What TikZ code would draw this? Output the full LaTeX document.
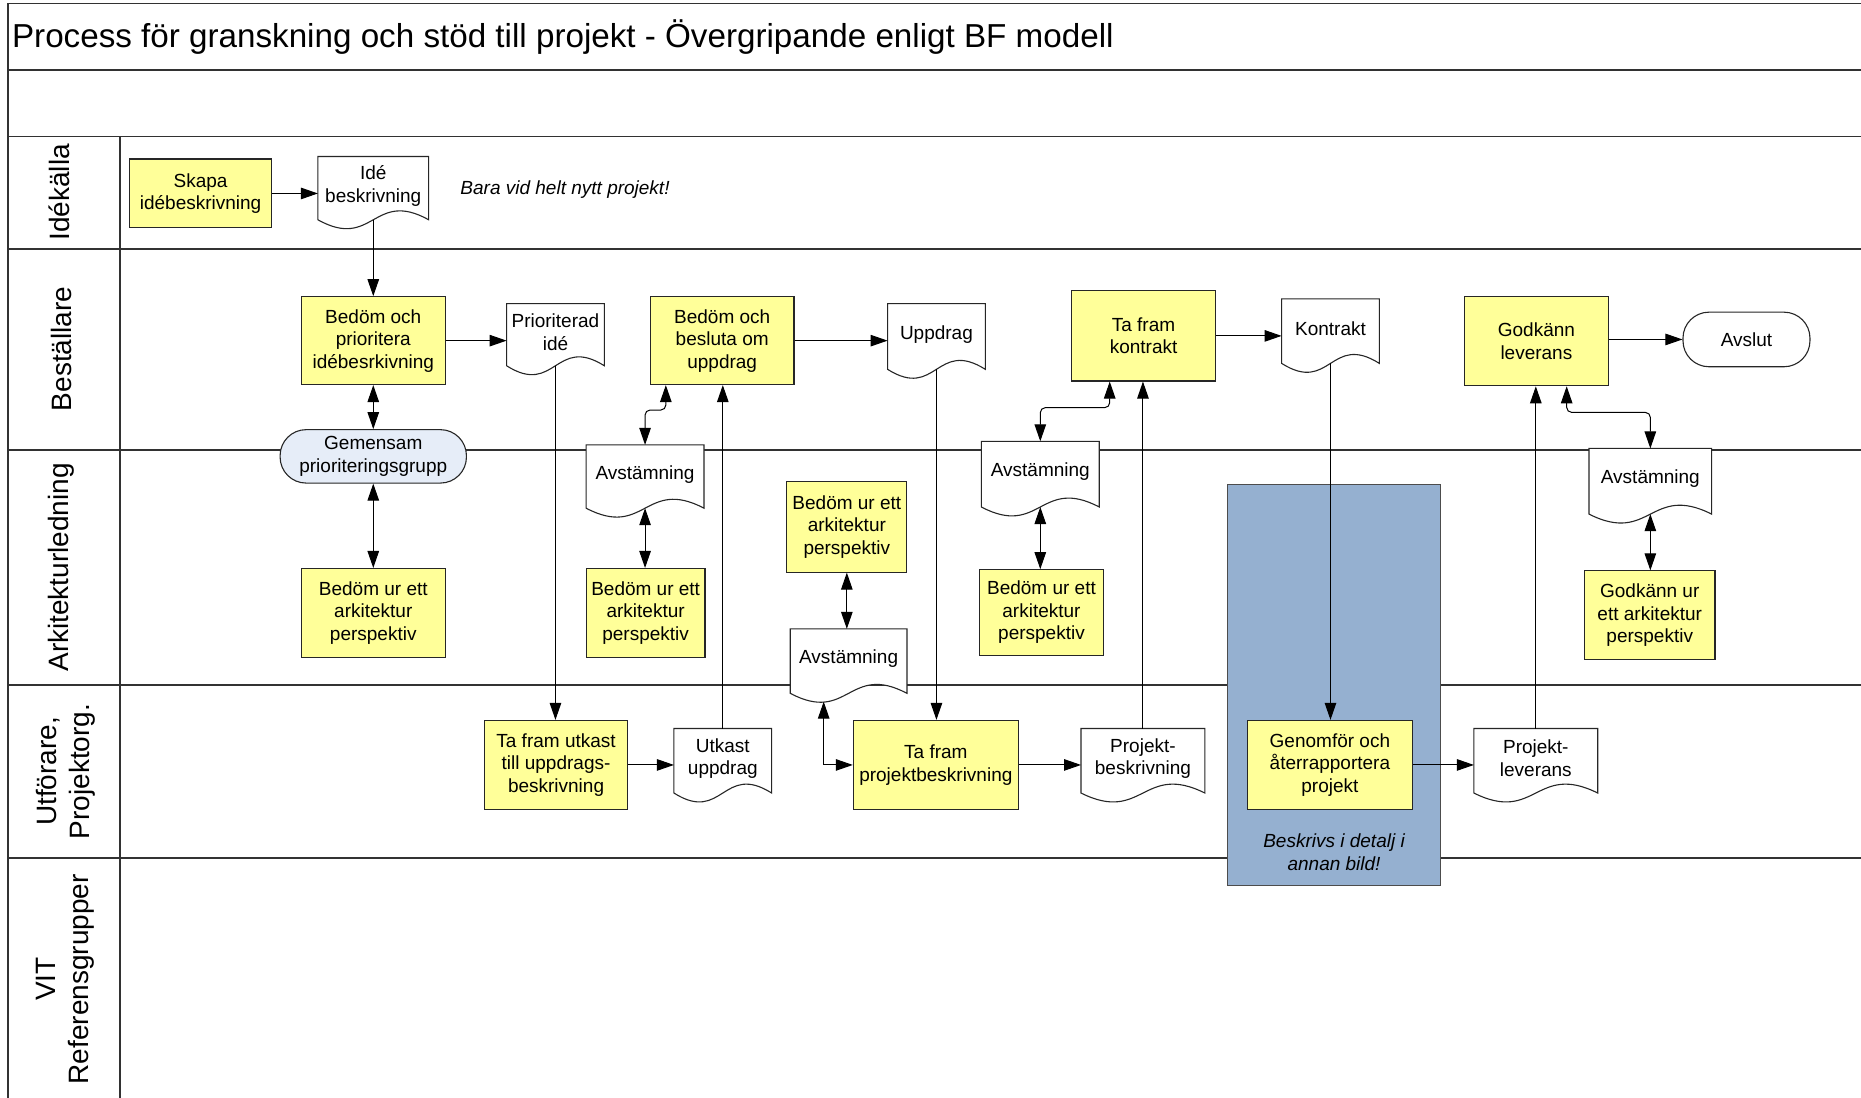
\documentclass[tikz,border=0pt]{standalone}
\usepackage{fontspec}
\setmainfont{Liberation Sans}
\usetikzlibrary{arrows.meta,calc}
\definecolor{boxyellow}{RGB}{255,255,153}
\definecolor{pillblue}{RGB}{230,237,248}
\definecolor{bigblue}{RGB}{149,176,208}
\definecolor{frameline}{RGB}{50,50,50}
\newcommand\boxfont{\fontsize{19}{22.5}\selectfont}
\newcommand\lanefont{\fontsize{28}{33}\selectfont}
\newcommand\titlefont{\fontsize{33.2}{38}\selectfont}
\tikzset{
 frame/.style={draw=frameline, line width=1.8pt},
 procbox/.style={draw=black!85, fill=boxyellow, line width=1.1pt, inner sep=0pt, align=center, font=\boxfont},
 docline/.style={draw=black!85, fill=white, line width=1.1pt},
 doctxt/.style={align=center, font=\boxfont, inner sep=0pt},
 pill/.style={draw=black!85, line width=1.1pt, inner sep=0pt, align=center, font=\boxfont, rounded corners=26pt},
 lanelabel/.style={rotate=90, align=center, font=\lanefont},
 note/.style={font=\boxfont\itshape, align=center},
 arr/.style={-{Triangle[length=17pt,width=11.5pt]}, line width=1pt},
 dbl/.style={{Triangle[length=17pt,width=11.5pt]}-{Triangle[length=17pt,width=11.5pt]}, line width=1pt},
}
% node spanning the box (L,T)-(R,B), given in picture units
\newcommand\spanbox[5]{minimum width={(#3-#1)*1.1869pt}, minimum height={(#4-#2)*1.1869pt}, at={({(#1+#3)/2},{(#2+#4)/2})}}
\newcommand\boxn[6]{\node[procbox, minimum width={(#4-#2)*1.1869pt}, minimum height={(#5-#3)*1.1869pt}] (#1) at ({(#2+#4)/2},{(#3+#5)/2}) {#6};}
\newcommand\docn[6]{%
  \node[inner sep=0pt, minimum width={(#4-#2)*1.1869pt}, minimum height={(#5-#3)*1.1869pt}] (#1) at ({(#2+#4)/2},{(#3+#5)/2}) {};
  \filldraw[docline] (#1.south east) .. controls ($(#1.south)+(0,-26)$) and ($(#1.south)+(0,26)$) .. (#1.south west) -- (#1.north west) -- (#1.north east) -- cycle;
  \node[doctxt] (#1-txt) at ($(#1.center)+(0,-2)$) {#6};}
\begin{document}
\begin{tikzpicture}[x=1.1869pt, y=-1.1869pt]
\useasboundingbox (0,0) rectangle (1568,925);
% frame and lanes
\draw[frame] (7,927) -- (7,3) -- (1570,3);
\foreach \yy in {59,115,210,379,577,723} \draw[frame] (7,\yy) -- (1570,\yy);
\draw[frame] (101,115) -- (101,927);
\node[font=\titlefont, anchor=base west, inner sep=0pt] (title) at (10,40) {Process för granskning och stöd till projekt - Övergripande enligt BF modell};
\node[lanelabel] (l1) at (50,162) {Idékälla};
\node[lanelabel] (l2) at (52,294) {Beställare};
\node[lanelabel] (l3) at (52,478) {Arkitekturledning};
\node[lanelabel] (l4) at (55,650) {Utförare,\\Projektorg.};
\node[lanelabel] (l5) at (55,825) {VIT\\Referensgrupper};
% big blue area
\node[draw=black!70, fill=bigblue, line width=1.1pt, inner sep=0pt, minimum width={180*1.1869pt}, minimum height={338*1.1869pt}] (detail) at (1124,577) {};
\node[note] (detailnote) at (1124,718) {Beskrivs i detalj i\\annan bild!};
% Idekalla
\boxn{skapa}{109}{134}{229}{192}{Skapa\\idébeskrivning}
\docn{ide}{268}{132}{361}{185}{Idé\\beskrivning}
\node[note, anchor=west] (newnote) at (385,160) {Bara vid helt nytt projekt!};
% Bestallare
\boxn{bp}{254}{250}{375}{324}{Bedöm och\\prioritera\\idébesrkivning}
\docn{prio}{427}{256}{509}{308}{Prioriterad\\idé}
\boxn{bb}{548}{250}{669}{324}{Bedöm och\\besluta om\\uppdrag}
\docn{uppdrag}{748}{256}{830}{311}{Uppdrag}
\boxn{tfk}{903}{245}{1024}{321}{Ta fram\\kontrakt}
\docn{kontrakt}{1080}{252}{1162}{306}{Kontrakt}
\boxn{gl}{1234}{250}{1355}{325}{Godkänn\\leverans}
\node[pill, fill=white, minimum width={107*1.1869pt}, minimum height={46*1.1869pt}] (avslut) at (1471.5,286) {Avslut};
\node[pill, fill=pillblue, minimum width={157*1.1869pt}, minimum height={45*1.1869pt}] (gem) at (314.5,384.5) {Gemensam\\prioriteringsgrupp};
% Arkitekturledning
\docn{av1}{494}{375}{593}{428}{Avstämning}
\boxn{bu1}{254}{479}{375}{554}{Bedöm ur ett\\arkitektur\\perspektiv}
\boxn{bu2}{494}{479}{594}{554}{Bedöm ur ett\\arkitektur\\perspektiv}
\boxn{bu3}{663}{406}{764}{482}{Bedöm ur ett\\arkitektur\\perspektiv}
\docn{av2}{666}{530}{764}{584}{Avstämning}
\docn{av3}{827}{372}{926}{427}{Avstämning}
\boxn{bu4}{825}{480}{930}{552}{Bedöm ur ett\\arkitektur\\perspektiv}
\docn{av4}{1339}{378}{1442}{433}{Avstämning}
\boxn{gu}{1335}{481}{1445}{556}{Godkänn ur\\ett arkitektur\\perspektiv}
% Utforare
\boxn{tfu}{408}{607}{529}{682}{Ta fram utkast\\till uppdrags-\\beskrivning}
\docn{utkast}{568}{614}{650}{668}{Utkast\\uppdrag}
\boxn{tfp}{719}{607}{858}{682}{Ta fram\\projektbeskrivning}
\docn{pb}{911}{614}{1015}{668}{Projekt-\\beskrivning}
\boxn{gen}{1051}{607}{1190}{682}{Genomför och\\återrapportera\\projekt}
\docn{pl}{1242}{614}{1346}{668}{Projekt-\\leverans}
% connectors
\draw[arr] (skapa.east) -- (skapa.east -| ide.west);
\draw[arr] (ide.south) -- (ide.south |- bp.north);
\draw[dbl] (bp.south) -- (bp.south |- gem.north);
\draw[dbl] (gem.south) -- (gem.south |- bu1.north);
\draw[arr] (bp.east) -- (bp.east -| prio.west);
\draw[arr] (prio.south) -- (prio.south |- tfu.north);
\draw[arr] (tfu.east) -- (tfu.east -| utkast.west);
\draw[arr] (utkast.north) -- (utkast.north |- bb.south);
\draw[dbl, rounded corners=5pt] ($(bb.south)+(-47.5,0)$) -- ++(0,21) -| (av1.north);
\draw[dbl] (av1.south) -- (av1.south |- bu2.north);
\draw[arr] (bb.east) -- (bb.east -| uppdrag.west);
\draw[arr] (uppdrag.south) -- (uppdrag.south |- tfp.north);
\draw[dbl] (bu3.south) -- (bu3.south |- av2.north);
\draw[dbl] ($(av2.south)+(-21,7)$) |- (tfp.west);
\draw[arr] (tfp.east) -- (tfp.east -| pb.west);
\draw[arr] (pb.north) -- (pb.north |- tfk.south);
\draw[dbl, rounded corners=5pt] ($(tfk.south)+(-28.5,0)$) -- ++(0,22) -| (av3.north);
\draw[dbl] (av3.south) -- (av3.south |- bu4.north);
\draw[arr] (tfk.east) -- (tfk.east -| kontrakt.west);
\draw[arr] (kontrakt.south) -- (kontrakt.south |- gen.north);
\draw[arr] (gen.east) -- (gen.east -| pl.west);
\draw[arr] (pl.north) -- (pl.north |- gl.south);
\draw[dbl, rounded corners=5pt] ($(gl.south)+(25.5,0)$) -- ++(0,22) -| (av4.north);
\draw[dbl] (av4.south) -- (av4.south |- gu.north);
\draw[arr] (gl.east |- avslut.west) -- (avslut.west);
\end{tikzpicture}
\end{document}
